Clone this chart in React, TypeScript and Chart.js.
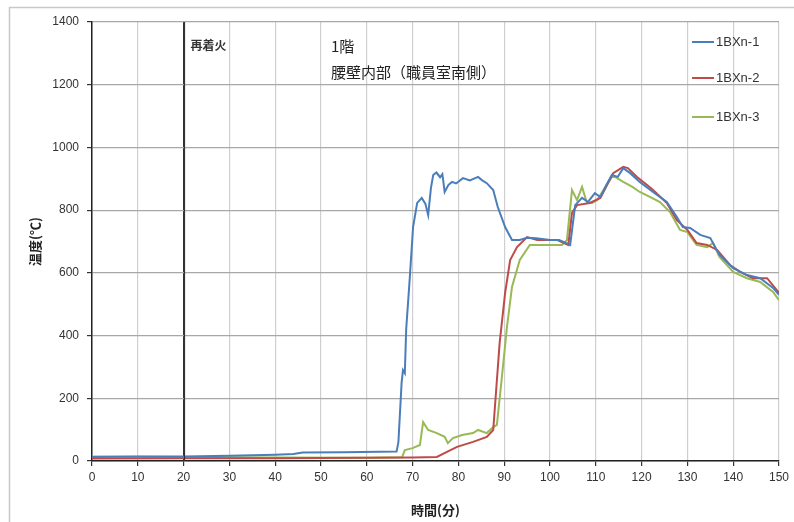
import React, { useEffect, useRef } from "react";
import { Chart, registerables } from "chart.js";
Chart.register(...registerables);

const seriesNames = ["1BXn-1", "1BXn-2", "1BXn-3"];
const seriesColors = ["#4a7ebb", "#be4b48", "#98b954"];

// 1BXn-1 (time in minutes, temperature in °C)
const t1 = [0, 10, 20, 30, 40, 44, 46, 55, 66.5, 66.9, 67.6, 67.9, 68.3, 68.6, 69.4, 70.1, 71, 72, 72.8, 73.4, 74, 74.5, 75.2, 76, 76.5, 77, 77.8, 78.6, 79.5, 81, 82.5, 84.3, 85.2, 86.2, 87.6, 88.6, 90.2, 91.7, 93.4, 95, 97, 100, 102, 104.4, 105.5, 107, 108.3, 109.8, 111, 112.3, 113.5, 114.8, 116, 117.5, 119.6, 122.5, 125.5, 127.7, 129, 130.6, 132.8, 135, 137, 140, 143, 145.9, 148.7, 150];
const v1 = [13, 14, 14, 17, 20, 22, 27, 28, 30, 60, 250, 290, 280, 420, 587, 746, 823, 839, 820, 784, 870, 912, 920, 905, 915, 858, 880, 890, 885, 902, 895, 906, 895, 886, 864, 810, 746, 705, 705, 712, 710, 705, 705, 689, 816, 839, 826, 854, 842, 880, 912, 906, 934, 918, 890, 858, 826, 778, 746, 743, 721, 711, 657, 615, 593, 583, 552, 530];

// 1BXn-2
const t2 = [0, 20, 40, 60, 70, 75.3, 77.5, 79.7, 83.2, 86.2, 87.6, 88.2, 89, 90.2, 91.3, 92.8, 95, 97.2, 101.5, 104, 104.8, 105.9, 108.7, 111, 113.8, 116, 117, 119, 121.2, 122.5, 125.5, 127.7, 130, 132, 134.3, 136.5, 139.3, 141.5, 144.3, 147.4, 150];
const v2 = [8, 9, 9, 10, 11, 13, 29, 45, 61, 77, 99, 217, 376, 536, 641, 682, 714, 705, 705, 689, 791, 816, 823, 839, 918, 938, 934, 906, 880, 864, 823, 768, 737, 695, 689, 673, 625, 603, 583, 583, 536];

// 1BXn-3
const t3 = [0, 20, 40, 60, 67.7, 68.3, 70, 71.6, 72.3, 73.4, 75.3, 77, 77.7, 78.8, 80.8, 83.2, 84.3, 86.2, 87.6, 88.4, 89.5, 90.6, 91.7, 93.4, 95.6, 98.5, 102.6, 103.7, 104.8, 105.9, 107, 108, 109.2, 110.3, 113.5, 114.2, 116, 118, 119.6, 121.8, 124, 126.2, 128.4, 130, 132, 134.3, 135.6, 137, 140, 143, 145.9, 148.7, 150];
const v3 = [14, 13, 11, 10, 12, 35, 41, 51, 124, 99, 89, 77, 57, 73, 83, 89, 99, 89, 108, 115, 268, 427, 555, 641, 689, 689, 689, 705, 864, 832, 874, 826, 823, 832, 906, 906, 890, 874, 858, 842, 826, 794, 737, 730, 689, 682, 695, 651, 603, 583, 571, 539, 513];

const xTicks = [0, 10, 20, 30, 40, 50, 60, 70, 80, 90, 100, 110, 120, 130, 140, 150];
const yTicks = [0, 200, 400, 600, 800, 1000, 1200, 1400];

const xTitle = "時間(分)";
const yTitle = "温度(℃)";
const reignitionLabel = "再着火";
const reignitionTime = 20;
const titleLines = ["1階", "腰壁内部（職員室南側）"];

const JP = '"Noto Sans CJK JP", "Liberation Sans", sans-serif';
const NUM = '"Liberation Sans", Arial, sans-serif';

export default function App() {
  const ref = useRef<HTMLCanvasElement | null>(null);
  useEffect(() => {
    if (!ref.current) return;
    const mk = (t: number[], v: number[]) => t.map((x, i) => ({ x, y: v[i] }));
    const sets = [mk(t1, v1), mk(t2, v2), mk(t3, v3)];
    const decor = {
      id: "decor",
      beforeDraw(chart: any) {
        const c = chart.ctx;
        c.save();
        c.fillStyle = "#fff";
        c.fillRect(0, 0, chart.width, chart.height);
        c.strokeStyle = "#c8c8c8";
        c.lineWidth = 1.5;
        c.strokeRect(9.5, 7.5, 820, 540);
        c.restore();
      },
      afterDatasetsDraw(chart: any) {
        const c = chart.ctx;
        const xs = chart.scales.x;
        const area = chart.chartArea;
        c.save();
        // reignition line
        const px = Math.round(xs.getPixelForValue(reignitionTime)) + 0.5;
        c.strokeStyle = "#333";
        c.lineWidth = 1.2;
        c.beginPath();
        c.moveTo(px, area.top);
        c.lineTo(px, area.bottom);
        c.stroke();
        c.fillStyle = "#333";
        c.font = `bold 12px ${JP}`;
        c.textBaseline = "middle";
        c.textAlign = "left";
        c.fillText(reignitionLabel, px + 6, 45);
        c.font = `15px ${JP}`;
        c.fillStyle = "#222";
        c.fillText(titleLines[0], 331, 46);
        c.fillText(titleLines[1], 331, 72);
        // y axis title
        c.save();
        c.translate(35, (area.top + area.bottom) / 2 + 0);
        c.rotate(-Math.PI / 2);
        c.textAlign = "center";
        c.font = `bold 13px ${JP}`;
        c.fillStyle = "#222";
        c.fillText(yTitle, 0, 0);
        c.restore();
        // legend
        const ly = [42, 78, 117];
        c.font = `13px ${NUM}`;
        for (let i = 0; i < 3; i++) {
          c.strokeStyle = seriesColors[i];
          c.lineWidth = 2;
          c.beginPath();
          c.moveTo(692, ly[i]);
          c.lineTo(714, ly[i]);
          c.stroke();
          c.fillStyle = "#333";
          c.fillText(seriesNames[i], 716, ly[i]);
        }
        c.restore();
      },
    };
    const chart = new Chart(ref.current, {
      type: "line",
      data: {
        datasets: sets.map((d, i) => ({
          label: seriesNames[i],
          data: d,
          borderColor: seriesColors[i],
          backgroundColor: seriesColors[i],
          borderWidth: 2,
          pointRadius: 0,
          tension: 0,
          fill: false,
        })),
      },
      options: {
        animation: false,
        responsive: false,
        parsing: false as any,
        layout: { padding: { left: 0, top: 22, right: 15, bottom: 0 } },
        plugins: { legend: { display: false }, tooltip: { enabled: false } },
        scales: {
          x: {
            type: "linear",
            min: 0,
            max: 150,
            afterFit(s: any) { s.height = 61; },
            afterBuildTicks(s: any) { s.ticks = xTicks.map((v) => ({ value: v })); },
            ticks: { color: "#333", font: { family: NUM, size: 12 }, padding: 4, maxRotation: 0, callback: (v: any) => String(v) },
            grid: {
              color: (ctx: any) => (ctx.tick && ctx.tick.value === reignitionTime ? "#333" : "#cfcfcf"),
              lineWidth: 1.2,
              tickColor: "#333",
              tickLength: 5,
            },
            border: { display: true, color: "#222", width: 1.5 },
            title: { display: true, text: xTitle, color: "#222", font: { family: JP, size: 13, weight: "bold" }, padding: { top: 2 } },
          },
          y: {
            type: "linear",
            min: 0,
            max: 1400,
            afterFit(s: any) { s.width = 92; },
            afterBuildTicks(s: any) { s.ticks = yTicks.map((v) => ({ value: v })); },
            ticks: { color: "#333", font: { family: NUM, size: 12 }, padding: 8, callback: (v: any) => String(v) },
            grid: { color: "#a8a8a8", lineWidth: 1.2, tickColor: "#333", tickLength: 5 },
            border: { display: true, color: "#222", width: 1.5 },
            title: { display: false, text: yTitle },
          },
        },
      },
      plugins: [decor],
    } as any);
    return () => chart.destroy();
  }, []);
  return (
    <div style={{ position: "fixed", left: 0, top: 0, width: 794, height: 522, background: "#fff" }}>
      <canvas ref={ref} width={794} height={522} style={{ display: "block", width: 794, height: 522 }} />
    </div>
  );
}
